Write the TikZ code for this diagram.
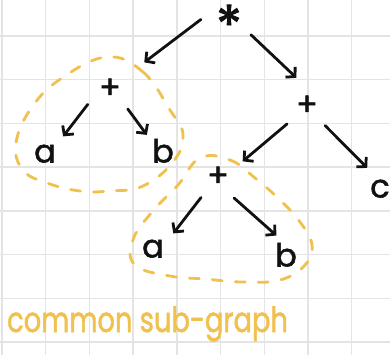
\documentclass[tikz,border=0pt]{standalone}
\usepackage{fontspec}
\setmainfont{Poppins}[FakeBold=1.6]
\usetikzlibrary{arrows.meta}
\definecolor{gridgray}{HTML}{E4E4E4}
\definecolor{marker}{HTML}{F0C14F}
\definecolor{ink}{HTML}{111111}
\newcommand{\lowplus}{\raisebox{-7pt}{+}}

\begin{document}
\begin{tikzpicture}[x=1pt,y=-1pt,
  sym/.style={circle,minimum size=56pt,inner sep=0pt,text=ink,
    text height=9pt,text depth=0pt,font=\fontsize{32}{32}\selectfont},
  arr/.style={draw=ink,line width=2.8pt,line cap=round,line join=round,
    -{Straight Barb[length=6.5pt,width=14pt]}},
  blob/.style={draw=marker,line width=2.8pt,line cap=round,dash pattern=on 10pt off 13pt}]
% paper
\useasboundingbox (0,0) rectangle (390,355);
\fill[white] (0,0) rectangle (390,355);
\foreach \i in {0,...,8} \draw[gridgray,line width=1.4pt] ({2+43.7*\i},0) -- ({2+43.7*\i},355);
\foreach \j in {0,...,7} \draw[gridgray,line width=1.4pt] (0,{36+43.7*\j}) -- (390,{36+43.7*\j});
% expression tree
\node[sym] (mul) at (229,17) {\raisebox{-23pt}{\fontsize{54}{54}\selectfont*}};
\node[sym] (addL) at (110,87) {\lowplus};
\node[sym] (addR) at (307,104) {\lowplus};
\node[sym] (aL) at (45,158) {a};
\node[sym] (bL) at (163,158) {b};
\node[sym] (addM) at (218,175) {\lowplus};
\node[sym] (cR) at (380,193) {c};
\node[sym] (aM) at (153,253) {a};
\node[sym] (bM) at (286,262) {b};
% edges
\draw[arr,shorten >=14pt] (mul.185) -- (addL.35);
\draw[arr] (mul.-39) -- (addR.112);
\draw[arr] (addL.218) -- (aL.50);
\draw[arr] (addL.-51) -- (bL.125);
\draw[arr] (addR.225) -- (addM.29);
\draw[arr] (addR.-50) -- (cR.117);
\draw[arr] (addM.233) -- (aM.44);
\draw[arr] (addM.-55) -- (bM.110);
% common sub-graph rings
\draw[blob] plot[smooth cycle,tension=0.7] coordinates {(107,57) (143,72) (170,110) (183,135)
  (173,162) (143,186) (110,191) (80,191) (47,183) (23,170) (16,143) (32,107) (62,78)};
\draw[blob] plot[smooth cycle,tension=0.7] coordinates {(200,158) (230,160) (255,178) (280,200)
  (300,222) (312,245) (305,265) (280,280) (242,282) (205,279) (170,276) (135,265) (133,240)
  (152,212) (178,185)};
\node[anchor=base west,inner sep=0pt,text=marker,font=\fontsize{35}{35}\selectfont]
  (caption) at (7,332) {\scalebox{0.78}[1]{common sub-graph}};
\end{tikzpicture}
\end{document}
